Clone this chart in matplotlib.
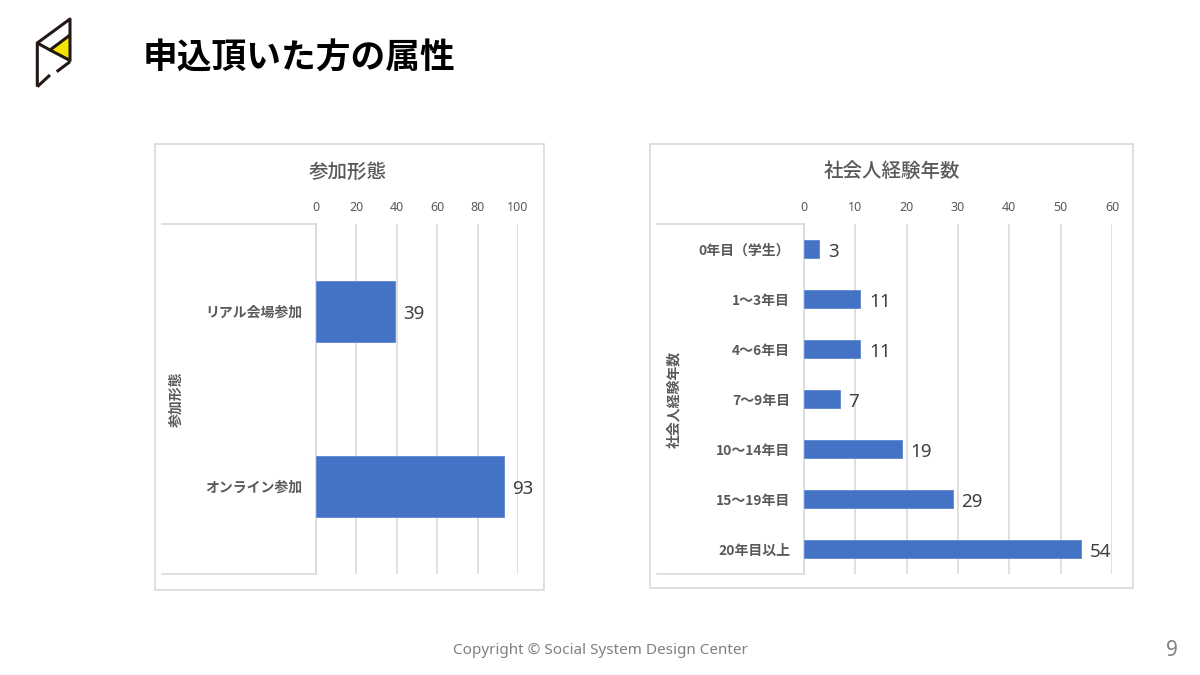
import matplotlib
matplotlib.use("Agg")
import matplotlib.pyplot as plt
from matplotlib.patches import Rectangle, Polygon
from matplotlib.lines import Line2D

plt.rcParams['font.family'] = ['Noto Sans CJK JP', 'DejaVu Sans']

# data
page_title = '申込頂いた方の属性'

style_title = '参加形態'
style_cats = ['リアル会場参加', 'オンライン参加']
style_vals = [39, 93]
style_ticks = [0, 20, 40, 60, 80, 100]

exp_title = '社会人経験年数'
exp_cats = ['0年目（学生）', '1～3年目', '4～6年目', '7～9年目',
            '10～14年目', '15～19年目', '20年目以上']
exp_vals = [3, 11, 11, 7, 19, 29, 54]
exp_ticks = [0, 10, 20, 30, 40, 50, 60]

BAR = '#4472C4'
GRID = '#d9d9d9'
TXT = '#595959'
LATIN = ['Noto Sans', 'DejaVu Sans']

W, H = 1200, 675
fig = plt.figure(figsize=(12, 6.75), dpi=100)


def box(x0, y0, x1, y1):
    return [x0 / W, 1 - y1 / H, (x1 - x0) / W, (y1 - y0) / H]


def fline(xs, ys, **kw):
    fig.add_artist(Line2D([x / W for x in xs], [1 - y / H for y in ys],
                          transform=fig.transFigure, **kw))


# logo
lg = fig.add_axes(box(25, 10, 85, 100))
lg.set_xlim(25, 85)
lg.set_ylim(100, 10)
lg.axis('off')
lg.add_patch(Polygon([(50, 50), (70, 35), (70, 60)], closed=True,
                     facecolor='#f5e400', edgecolor='none'))
lk = dict(color='#231815', lw=2.2, solid_capstyle='butt')
lg.plot([37.3, 37.3, 70, 70], [86.7, 43, 19, 61.7], **lk)
lg.plot([37.3, 50, 70], [43, 50, 35], **lk)
lg.plot([50, 70], [50, 60.5], **lk)
lg.plot([70, 56.7], [61.7, 71.7], **lk)
lg.plot([50, 37.3], [75, 86.7], **lk)

fig.text(143 / W, 1 - 58 / H, page_title, fontsize=25, fontweight='bold',
         color='black', va='center', ha='left')


def chart(frame, plot_box, title, title_xy, cats, vals, ticks, ylab_x):
    fig.add_artist(Rectangle((frame[0] / W, 1 - frame[3] / H),
                             (frame[2] - frame[0]) / W, (frame[3] - frame[1]) / H,
                             transform=fig.transFigure, fill=False,
                             edgecolor=GRID, lw=1.2))
    x0, y0, x1, y1 = plot_box
    fline([frame[0] + 7, x0], [y0, y0], color=GRID, lw=1.2)
    fline([frame[0] + 7, x0], [y1, y1], color=GRID, lw=1.2)

    fig.text(title_xy[0] / W, 1 - title_xy[1] / H, title, fontsize=14,
             fontweight='medium', color=TXT, ha='center', va='center')

    ax = fig.add_axes(box(x0, y0, x1, y1))
    n = len(cats)
    pos = list(range(n))
    ax.barh(pos, vals, height=0.35, color=BAR, edgecolor='#5b86d0', lw=0.6,
            zorder=3)
    for p, v in zip(pos, vals):
        ax.annotate(str(v), (v, p), xytext=(6, -2), textcoords='offset points',
                    ha='left', va='center', fontsize=13.5, color='#404040',
                    family=LATIN)
    ax.set_xlim(ticks[0], ticks[-1])
    ax.set_ylim(n - 0.5, -0.5)
    ax.set_xticks(ticks)
    ax.set_xticklabels([str(t) for t in ticks], family=LATIN)
    ax.xaxis.tick_top()
    ax.tick_params(axis='x', length=0, pad=7, labelsize=9, labelcolor=TXT)
    ax.set_yticks(pos)
    ax.set_yticklabels(cats, fontsize=10, fontweight='bold', color=TXT)
    ax.tick_params(axis='y', length=0, pad=10)
    ax.grid(axis='x', color=GRID, lw=1.2, zorder=0)
    for s in ['top', 'right', 'bottom']:
        ax.spines[s].set_visible(False)
    ax.spines['left'].set_color(GRID)
    ax.spines['left'].set_linewidth(1.2)
    ax.set_facecolor('none')
    ax.set_ylabel(title, fontsize=10, fontweight='bold', color=TXT)
    ax.yaxis.set_label_coords((ylab_x - x0) / (x1 - x0), 0.5)
    return ax


chart((155, 144, 544, 590), (316, 224, 518, 574), style_title, (348, 172),
      style_cats, style_vals, style_ticks, 184)
chart((650, 144, 1133, 588), (804, 224, 1112, 574), exp_title, (892, 171),
      exp_cats, exp_vals, exp_ticks, 681)

fig.text(600 / W, 1 - 651 / H, 'Copyright © Social System Design Center',
         fontsize=11, color='#808080', ha='center', va='center', family=LATIN)
fig.text(1172 / W, 1 - 651 / H, '9', fontsize=15, color='#808080',
         ha='center', va='center', family=LATIN)

fig.savefig('out.png', dpi=100)
